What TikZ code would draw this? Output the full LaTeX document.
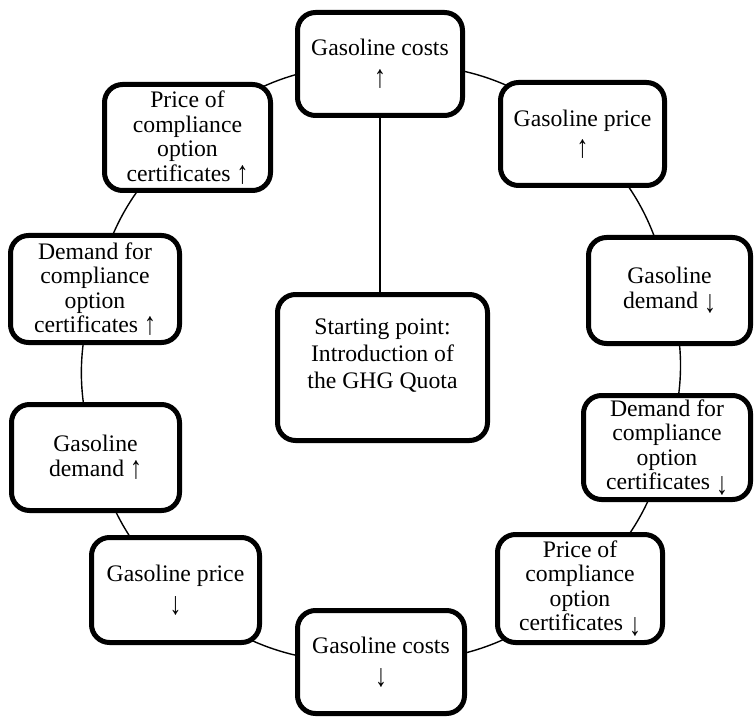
\documentclass[tikz,border=0pt]{standalone}
\usepackage{fontspec}
\usepackage{graphicx}
\setmainfont{Liberation Serif}
\usetikzlibrary{backgrounds}
% tall, thin trend arrows
\newcommand\trendup{\raisebox{-0.2ex}{\scalebox{1}[1.35]{↑}}}
\newcommand\trenddown{\raisebox{-0.45ex}{\scalebox{1}[1.35]{↓}}}
\begin{document}
\begin{tikzpicture}[x=1pt,y=1pt,
  cyclebox/.style={draw=black, line width=5pt, rounded corners=18pt, fill=white,
    align=center, inner sep=2pt, font=\fontsize{23.7}{24.5}\selectfont},
  bigtext/.style={align=center, inner sep=0pt, font=\fontsize{23.7}{27}\selectfont},
  link/.style={draw=black, line width=1.4pt}]
\useasboundingbox (0,0) rectangle (755,-722);

% outer ring of effects
\node[cyclebox, minimum width=165, minimum height=103] (costup) at (380,-64) {Gasoline costs\\[5pt]\trendup};
\node[cyclebox, minimum width=164, minimum height=103] (priceup) at (582.5,-134) {Gasoline price\\[4pt]\trendup};
\node[cyclebox, minimum width=162, minimum height=106] (demdown) at (669.5,-290.5) {Gasoline\\demand \trenddown};
\node[cyclebox, minimum width=167, minimum height=104] (certdemdown) at (667,-447.5) {Demand for\\compliance\\option\\certificates \trenddown};
\node[cyclebox, minimum width=165, minimum height=108] (certpricedown) at (580,-588.5) {Price of\\compliance\\option\\certificates \trenddown};
\node[cyclebox, minimum width=167, minimum height=103] (costdown) at (381,-662) {Gasoline costs\\[4pt]\trenddown};
\node[cyclebox, minimum width=168, minimum height=105] (pricedown) at (175.5,-590) {Gasoline price\\[4pt]\trenddown};
\node[cyclebox, minimum width=168, minimum height=106] (demup) at (95.5,-457.5) {Gasoline\\demand \trendup};
\node[cyclebox, minimum width=169, minimum height=107] (certdemup) at (95,-289) {Demand for\\compliance\\option\\certificates \trendup};
\node[cyclebox, minimum width=166, minimum height=106] (certpriceup) at (187.5,-137.5) {Price of\\compliance\\option\\certificates \trendup};

% starting point in the middle
\node[cyclebox, minimum width=210, minimum height=146] (start) at (382.5,-367.5) {};
\node[bigtext] (starttext) at (382.5,-356) {Starting point:\\Introduction of\\the GHG Quota};

% ring connectors and the stem to the start box
\begin{scope}[on background layer]
\draw[link] (costup.center) to[bend left=20.4] (priceup.center);
\draw[link] (priceup.center) to[bend left=17.3] (demdown.center);
\draw[link] (demdown.center) to[bend left=15.4] (certdemdown.center);
\draw[link] (certdemdown.center) to[bend left=16.2] (certpricedown.center);
\draw[link] (certpricedown.center) to[bend left=20.7] (costdown.center);
\draw[link] (costdown.center) to[bend left=21.4] (pricedown.center);
\draw[link] (pricedown.center) to[bend left=14.8] (demup.center);
\draw[link] (demup.center) to[bend left=16.3] (certdemup.center);
\draw[link] (certdemup.center) to[bend left=17.3] (certpriceup.center);
\draw[link] (certpriceup.center) to[bend left=20.4] (costup.center);
\draw[link] (costup.south) -- (costup.south |- start.north);
\end{scope}
\end{tikzpicture}
\end{document}
